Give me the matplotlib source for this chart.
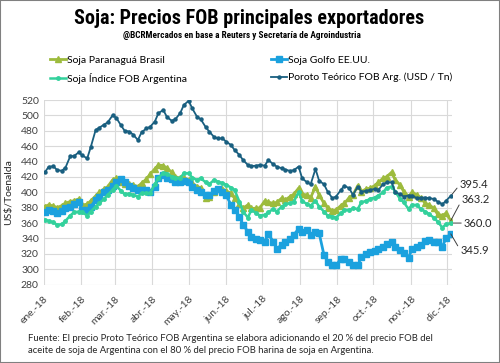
import pandas as pd
import matplotlib
matplotlib.use('Agg')
import matplotlib.pyplot as plt
from matplotlib.lines import Line2D
from matplotlib.patches import Rectangle

# Precios FOB soja 2018 (US$/t), lecturas martes y viernes
fechas = pd.date_range('2018-01-02', '2018-12-04', freq='W-TUE').union(
    pd.date_range('2018-01-05', '2018-12-04', freq='W-FRI'))

paranagua = [381.5, 383.6, 382.3, 380.0, 382.7, 385.8, 388.0, 389.0, 391.4, 383.6, 384.5, 389.0,
             395.3, 400.0, 404.4, 407.4, 416.0, 418.3, 414.0, 410.5, 410.5, 409.6, 407.4, 411.8, 417.0,
             423.5, 430.4, 435.6, 434.7, 431.3, 426.0, 420.4, 418.3, 419.0, 416.0, 411.8, 407.4,
             406.0, 392.3, 394.5, 401.0, 404.4, 404.4, 401.8, 398.8, 392.3, 384.5, 379.3, 383.6, 379.0,
             379.3, 380.0, 388.8, 387.0, 385.8, 387.0, 392.3, 390.0, 394.5, 397.5, 405.3, 397.5,
             396.6, 393.2, 407.4, 396.6, 385.8, 380.0, 375.8, 377.0, 382.7, 385.8, 393.2, 396.6,
             408.7, 401.0, 404.4, 405.3, 408.7, 413.0, 418.3, 420.4, 426.0, 416.0, 409.6, 401.0,
             394.5, 400.0, 396.6, 392.3, 385.8, 383.6, 379.3, 371.5, 369.8, 372.8, 363.2]

golfo = [375.0, 377.0, 376.0, 373.0, 376.0, 379.3, 381.5, 384.5, 387.0, 377.0, 377.0, 381.5,
         390.0, 394.5, 400.0, 403.0, 408.7, 413.0, 417.4, 413.0, 408.7, 406.0, 403.0, 403.0, 403.0,
         401.0, 407.4, 418.0, 422.6, 419.0, 417.4, 414.0, 413.0, 415.0, 413.0, 407.4, 403.0,
         401.0, 396.6, 396.6, 401.8, 404.4, 401.0, 396.6, 383.6, 377.0, 368.5, 357.7, 349.0, 342.5,
         339.5, 338.0, 336.0, 345.5, 336.0, 326.5, 331.7, 335.0, 339.5, 344.7, 352.5, 349.0,
         351.0, 344.0, 348.3, 347.0, 318.7, 310.0, 306.0, 305.0, 313.5, 313.0, 310.0, 306.0,
         305.0, 316.5, 319.6, 322.0, 324.0, 326.5, 329.5, 332.6, 336.0, 329.5, 325.0, 321.0,
         315.2, 326.5, 329.5, 331.7, 337.0, 338.0, 336.0, 335.0, 329.5, 340.0, 345.9]

indice = [364.0, 362.8, 361.0, 357.7, 358.5, 362.8, 369.8, 374.0, 375.0, 374.0, 369.8, 375.0,
          381.5, 385.8, 391.4, 396.6, 403.0, 408.7, 401.8, 397.5, 398.4, 396.6, 394.5, 398.8, 399.0,
          398.8, 410.5, 419.0, 424.8, 424.3, 420.4, 419.0, 418.3, 424.8, 424.8, 419.0, 416.0,
          418.3, 413.0, 410.5, 416.0, 414.0, 411.8, 410.0, 406.2, 403.0, 388.0, 375.0, 367.2, 377.0,
          372.8, 369.8, 370.6, 374.0, 378.4, 375.0, 381.5, 384.5, 385.8, 388.0, 400.0, 388.8,
          384.5, 382.7, 388.8, 381.5, 375.0, 369.8, 368.5, 367.2, 372.8, 377.0, 377.0, 379.0,
          378.4, 387.0, 388.8, 391.4, 393.2, 395.8, 400.0, 406.2, 407.4, 401.0, 391.4, 387.0,
          378.4, 383.6, 383.6, 378.4, 375.0, 371.5, 367.2, 362.0, 354.2, 358.5, 360.0]

poroto = [426.0, 433.0, 434.0, 429.0, 428.0, 432.0, 447.0, 447.0, 452.0, 448.0, 444.0, 459.0,
          481.0, 484.0, 488.0, 491.0, 500.0, 497.0, 487.0, 480.0, 479.0, 475.0, 468.0, 478.0, 483.0,
          485.0, 492.0, 503.0, 507.0, 498.0, 493.0, 495.0, 503.0, 513.5, 519.0, 509.0, 498.0,
          495.0, 485.0, 479.0, 472.0, 470.0, 470.0, 466.0, 461.5, 455.0, 448.6, 442.0, 435.6, 434.0,
          434.7, 435.6, 434.7, 442.0, 436.5, 433.4, 431.3, 429.5, 427.8, 428.7, 433.4, 418.0,
          413.0, 410.5, 430.4, 415.0, 410.5, 401.0, 392.3, 394.5, 403.0, 408.7, 405.0, 396.6,
          407.4, 401.0, 401.8, 403.0, 404.4, 403.0, 410.5, 413.0, 413.0, 400.0, 397.5, 394.5,
          395.8, 395.8, 392.3, 393.2, 393.2, 392.3, 391.4, 388.0, 384.5, 388.8, 395.4]

meses = pd.date_range('2018-01-01', periods=12, freq='MS')
etiquetas_meses = ['ene.-18', 'feb.-18', 'mar.-18', 'abr.-18', 'may.-18', 'jun.-18',
                   'jul.-18', 'ago.-18', 'sep.-18', 'oct.-18', 'nov.-18', 'dic.-18']

c_par = '#9DBB3D'
c_golfo = '#1BA1DE'
c_ind = '#33D19C'
c_por = '#195F80'

plt.rcParams['font.family'] = ['Lato', 'DejaVu Sans']
narrow = ['Liberation Sans Narrow', 'Roboto Condensed', 'DejaVu Sans']

fig = plt.figure(figsize=(5, 3.63), dpi=100)
ax = fig.add_axes([0.0874, 0.216, 0.8166, 0.5085])

ax.plot(fechas, paranagua, color=c_par, lw=2, marker='^', ms=5, zorder=2)
ax.plot(fechas, golfo, color=c_golfo, lw=2, marker='s', ms=4.5, zorder=3)
ax.plot(fechas, indice, color=c_ind, lw=1.8, marker='o', ms=2.5, zorder=4)
ax.plot(fechas, poroto, color=c_por, lw=1.3, marker='o', ms=2.2, zorder=5)

ax.set_ylim(280, 520)
ax.set_yticks(range(280, 521, 20))
ax.set_xlim(pd.Timestamp('2018-01-01'), pd.Timestamp('2018-12-05'))
ax.set_xticks(meses)
ax.set_xticklabels(etiquetas_meses, rotation=45, ha='right', rotation_mode='anchor')
ax.grid(color='#D9D9D9', lw=0.8, zorder=0)
ax.set_axisbelow(True)
ax.tick_params(length=0, labelsize=7.5, colors='#404040')
ax.tick_params(axis='x', pad=7)
for s in ax.spines.values():
    s.set_visible(False)
ax.set_ylabel('US$/Toenalda', fontsize=7.5, color='#262626', labelpad=6)

# etiquetas de ultimo valor
finales = [(poroto[-1], (6.5, 8)), (paranagua[-1], (8, 15)),
           (indice[-1], (9.5, 0)), (golfo[-1], (7, -12))]
for valor, off in finales:
    ax.annotate(f'{valor:.1f}', xy=(fechas[-1], valor), xytext=off, textcoords='offset points',
                va='center', ha='left', fontsize=8, color='#262626', annotation_clip=False,
                arrowprops=dict(arrowstyle='-', color='#404040', lw=0.7, shrinkA=0, shrinkB=0,
                                relpos=(0, 0.5)))

fig.text(0.499, 0.950, 'Soja: Precios FOB principales exportadores', ha='center', va='center',
         fontsize=14.5, fontweight='bold', family=narrow, fontstretch='condensed')
fig.text(0.483, 0.901, '@BCRMercados en base a Reuters y Secretaría de Agroindustria',
         ha='center', va='center', fontsize=6.7, fontweight='bold', family=narrow,
         fontstretch='condensed')

handles = [Line2D([], [], color=c_par, lw=2, marker='^', ms=5),
           Line2D([], [], color=c_ind, lw=1.8, marker='o', ms=2.5),
           Line2D([], [], color=c_golfo, lw=2, marker='s', ms=4.5),
           Line2D([], [], color=c_por, lw=1.3, marker='o', ms=2.2)]
labels = ['Soja Paranaguá Brasil', 'Soja Índice FOB Argentina',
          'Soja Golfo EE.UU.', 'Poroto Teórico FOB Arg. (USD / Tn)']
fig.legend(handles, labels, ncol=2, loc='upper left', bbox_to_anchor=(0.10, 0.847),
           frameon=False, fontsize=7.5, handlelength=1.55, handletextpad=0.05,
           columnspacing=8.1, labelspacing=0.75, borderaxespad=0, borderpad=0)

fig.text(0.056, 0.081, 'Fuente: El precio Proto Teórico FOB Argentina se elabora adicionando el 20 % del precio FOB del\n'
         'aceite de soja de Argentina con el 80 % del precio FOB harina de soja en Argentina.',
         ha='left', va='top', fontsize=6.8, color='#262626', linespacing=1.55)

fig.patches.append(Rectangle((0, 0), 1, 1, transform=fig.transFigure, fill=False,
                             edgecolor='#808080', lw=1.5))

fig.savefig('out.png', dpi=100)
